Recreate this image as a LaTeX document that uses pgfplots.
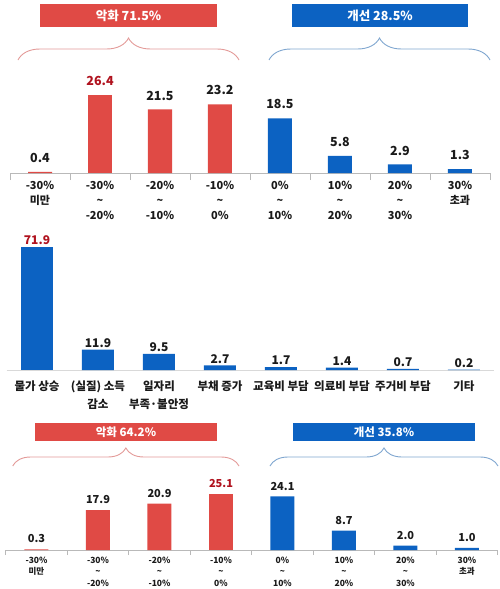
\documentclass[border=0pt]{standalone}
\usepackage{fontspec}
\setmainfont{Noto Sans CJK KR}
\usepackage{pgfplots}
\pgfplotsset{compat=1.18}
\usetikzlibrary{decorations.pathreplacing}
\definecolor{cred}{HTML}{E04A45}
\definecolor{cblue}{HTML}{0C62C2}
\definecolor{dred}{HTML}{B0121E}
\definecolor{bred}{HTML}{E39A98}
\definecolor{bblue}{HTML}{7FA6CF}
\definecolor{txt}{HTML}{1A1A1A}
\pgfplotsset{panel/.style={scale only axis, clip=false, anchor=south west,
  axis y line=none, axis x line*=bottom, ytick=\empty,
  /pgf/number format/assume math mode=true,
  x axis line style={-, draw=gray!55, line width=0.6pt},
  ymin=0, xmin=-0.5, xmax=7.5, xtick={0,...,7}, major tick length=0pt,
  ybar, bar shift=0pt, enlargelimits=false,
  nodes near coords={\pgfmathprintnumber[fixed,fixed zerofill,precision=1,assume math mode=true]{\pgfplotspointmeta}},
  every node near coord/.append style={text=txt, anchor=south, inner sep=0pt},
  xticklabel style={align=center, text=txt, inner sep=0pt, anchor=north},
}}
\begin{document}
\begin{tikzpicture}
\useasboundingbox (0,0) rectangle (500pt,-589pt);
% ---------- top panel ----------
\fill[cred] (40pt,-4pt) rectangle (217pt,-27pt);
\node[text=white, font=\fontsize{12.5}{14}\selectfont\bfseries] at (128.5pt,-15.5pt) {악화 71.5\%};
\fill[cblue] (292pt,-4pt) rectangle (468pt,-27pt);
\node[text=white, font=\fontsize{12.5}{14}\selectfont\bfseries] at (380pt,-15.5pt) {개선 28.5\%};
\draw[bred, line width=0.9pt, decorate, decoration={brace, amplitude=22pt}] (18pt,-60pt) -- (239pt,-60pt);
\draw[bblue, line width=0.9pt, decorate, decoration={brace, amplitude=22pt}] (269pt,-60pt) -- (490pt,-60pt);
\begin{axis}[panel, at={(10pt,-173pt)}, width=480pt, height=100pt, ymax=33.8, bar width=24pt,
  extra x ticks={-0.5,0.5,1.5,2.5,3.5,4.5,5.5,6.5,7.5}, extra x tick labels={},
  extra x tick style={major tick length=7pt, tick align=outside, tick style={draw=gray!55, line width=0.6pt}},
  xticklabels={{-30\%\\미만},{-30\%\\\textasciitilde\\-20\%},{-20\%\\\textasciitilde\\-10\%},{-10\%\\\textasciitilde\\0\%},{0\%\\\textasciitilde\\10\%},{10\%\\\textasciitilde\\20\%},{20\%\\\textasciitilde\\30\%},{30\%\\초과}},
  xticklabel style={font=\fontsize{11}{15}\selectfont\bfseries, yshift=-8pt},
  every node near coord/.append style={font=\fontsize{12.5}{14}\selectfont\bfseries, yshift=9pt}]
\addplot[fill=cred, draw=none] coordinates {(0,0.4) (2,21.5) (3,23.2)};
\addplot[fill=cred, draw=none, every node near coord/.append style={text=dred}] coordinates {(1,26.4)};
\addplot[fill=cblue, draw=none] coordinates {(4,18.5) (5,5.8) (6,2.9) (7,1.3)};
\end{axis}
% ---------- middle panel ----------
\begin{axis}[panel, at={(6.5pt,-370pt)}, width=488pt, height=130pt, ymax=76, bar width=32pt,
  x axis line style={-, draw=gray!30, line width=0.6pt},
  xticklabels={{물가 상승},{(실질) 소득\\감소},{일자리\\부족·불안정},{부채 증가},{교육비 부담},{의료비 부담},{주거비 부담},{기타}},
  xticklabel style={font=\fontsize{11.5}{18}\selectfont\bfseries, yshift=-11pt},
  every node near coord/.append style={font=\fontsize{12}{14}\selectfont\bfseries, yshift=2pt}]
\addplot[fill=cblue, draw=none, every node near coord/.append style={text=dred}] coordinates {(0,71.9)};
\addplot[fill=cblue, draw=none] coordinates {(1,11.9) (2,9.5) (3,2.7) (4,1.7) (5,1.4) (6,0.7) (7,0.2)};
\end{axis}
% ---------- bottom panel ----------
\fill[cred] (35pt,-423.3pt) rectangle (217pt,-440.7pt);
\node[text=white, font=\fontsize{11.5}{14}\selectfont\bfseries] at (126pt,-432pt) {악화 64.2\%};
\fill[cblue] (293pt,-423.3pt) rectangle (475pt,-440.7pt);
\node[text=white, font=\fontsize{11.5}{14}\selectfont\bfseries] at (384pt,-432pt) {개선 35.8\%};
\draw[bred, line width=0.9pt, decorate, decoration={brace, amplitude=18pt}] (12.7pt,-466pt) -- (239pt,-466pt);
\draw[bblue, line width=0.9pt, decorate, decoration={brace, amplitude=18pt}] (270pt,-466pt) -- (498pt,-466pt);
\begin{axis}[panel, at={(5.75pt,-550pt)}, width=492pt, height=60pt, ymax=27, bar width=24pt,
  extra x ticks={-0.5,0.5,1.5,2.5,3.5,4.5,5.5,6.5,7.5}, extra x tick labels={},
  extra x tick style={major tick length=5pt, tick align=outside, tick style={draw=gray!55, line width=0.6pt}},
  xticklabels={{-30\%\\미만},{-30\%\\\textasciitilde\\-20\%},{-20\%\\\textasciitilde\\-10\%},{-10\%\\\textasciitilde\\0\%},{0\%\\\textasciitilde\\10\%},{10\%\\\textasciitilde\\20\%},{20\%\\\textasciitilde\\30\%},{30\%\\초과}},
  xticklabel style={font=\fontsize{8.5}{11.5}\selectfont\bfseries, yshift=-6.5pt},
  every node near coord/.append style={font=\fontsize{11}{13}\selectfont\bfseries, yshift=6pt}]
\addplot[fill=cred, draw=none] coordinates {(0,0.3) (1,17.9) (2,20.9)};
\addplot[fill=cred, draw=none, every node near coord/.append style={text=dred}] coordinates {(3,25.1)};
\addplot[fill=cblue, draw=none] coordinates {(4,24.1) (5,8.7) (6,2.0) (7,1.0)};
\end{axis}
\end{tikzpicture}
\end{document}
